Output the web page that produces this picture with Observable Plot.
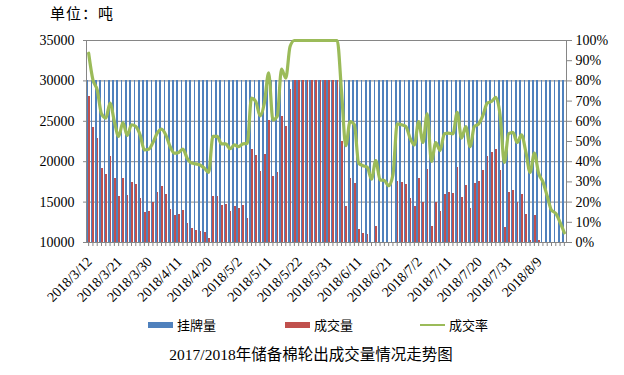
<!DOCTYPE html>
<html><head><meta charset="utf-8">
<script src="https://cdn.jsdelivr.net/npm/d3@7"></script>
<script src="https://cdn.jsdelivr.net/npm/@observablehq/plot@0.6"></script>
<style>
body{margin:0;background:#fff}
#wrap{position:relative;width:624px;height:375px;overflow:hidden;font-family:"Liberation Serif","Noto Sans CJK SC",serif}
#wrap svg{position:absolute;left:0;top:0}
.t{position:absolute;white-space:nowrap;color:#000;line-height:1}
.cjk{font-family:"Noto Sans CJK SC",sans-serif}
.sw{position:absolute}
</style></head><body>
<div id="wrap"></div>
<script>
const dates = [
"2018/3/12","2018/3/13","2018/3/14","2018/3/15","2018/3/16",
"2018/3/19","2018/3/20","2018/3/21","2018/3/22","2018/3/23",
"2018/3/26","2018/3/27","2018/3/28","2018/3/29","2018/3/30",
"2018/4/2","2018/4/3","2018/4/4","2018/4/8",
"2018/4/9","2018/4/10","2018/4/11","2018/4/12","2018/4/13",
"2018/4/16","2018/4/17","2018/4/18","2018/4/19","2018/4/20",
"2018/4/23","2018/4/24","2018/4/25","2018/4/26","2018/4/27","2018/4/28",
"2018/5/2","2018/5/3","2018/5/4",
"2018/5/7","2018/5/8","2018/5/9","2018/5/10","2018/5/11",
"2018/5/14","2018/5/15","2018/5/16","2018/5/17","2018/5/18",
"2018/5/21","2018/5/22","2018/5/23","2018/5/24","2018/5/25",
"2018/5/28","2018/5/29","2018/5/30","2018/5/31",
"2018/6/1",
"2018/6/4","2018/6/5","2018/6/6","2018/6/7","2018/6/8",
"2018/6/11","2018/6/12","2018/6/13","2018/6/14","2018/6/15",
"2018/6/19","2018/6/20","2018/6/21","2018/6/22",
"2018/6/25","2018/6/26","2018/6/27","2018/6/28","2018/6/29",
"2018/7/2","2018/7/3","2018/7/4","2018/7/5","2018/7/6",
"2018/7/9","2018/7/10","2018/7/11","2018/7/12","2018/7/13",
"2018/7/16","2018/7/17","2018/7/18","2018/7/19","2018/7/20",
"2018/7/23","2018/7/24","2018/7/25","2018/7/26","2018/7/27",
"2018/7/30","2018/7/31",
"2018/8/1","2018/8/2","2018/8/3",
"2018/8/6","2018/8/7","2018/8/8","2018/8/9","2018/8/10",
"2018/8/13","2018/8/14","2018/8/15","2018/8/16","2018/8/17"
];
// 挂牌量 (tons)
const listed = [
30000,30000,30000,30000,30000,30000,30000,30000,30000,30000,30000,30000,30000,30000,
30000,30000,30000,30000,30000,30000,30000,30000,30000,30000,30000,30000,30000,30000,
30000,30000,30000,30000,30000,30000,30000,30000,30000,30000,30000,30000,30000,30000,
30000,30000,30000,30000,30000,30000,30000,30000,30000,30000,30000,30000,30000,30000,
30000,30000,30000,30000,30000,30000,30000,30000,30000,30000,30000,30000,30000,30000,
30000,30000,30000,30000,30000,30000,30000,30000,30000,30000,30000,30000,30000,30000,
30000,30000,30000,30000,30000,30000,30000,30000,30000,30000,30000,30000,30000,30000,
30000,30000,30000,30000,30000,30000,30000,30000,30000,30000,30000,30000,30000,30000
];
// 成交量 (tons)
const traded = [
28070,24230,22870,19160,18415,20640,17920,15690,17920,15820,
17425,17180,15445,13710,13840,14950,16190,16930,15940,14080,
13340,13465,13960,12350,11730,11485,11360,11240,10495,15690,
15690,14580,14700,13840,14455,14210,14580,12970,21510,20770,
18790,20890,25100,18200,18700,25590,24355,28930,30000,30000,
30000,30000,30000,30000,30000,30000,30000,30000,30000,22500,
14455,17920,17300,11610,11110,10990,9400,11980,9300,9200,
8430,10050,17550,17425,17180,15445,14455,17920,14950,19030,
11980,14950,13840,15940,16190,16060,19280,15570,17050,14210,
17300,17550,18910,20640,21140,21510,18910,11860,16190,16435,
14950,15940,13465,10250,13340,10250,9000,6900,4800,4300,
3000,1400
];
// 成交率 (%)
const rate = [
93.7,80.5,75.6,63.7,61.6,69.0,59.9,52.5,59.4,53.0,
58.3,57.4,53.3,45.9,46.2,49.5,54.1,56.1,53.3,47.5,
44.2,44.6,46.2,41.7,39.3,38.9,38.4,36.8,34.7,52.5,
52.5,48.8,48.8,46.4,48.3,47.5,48.8,49.0,71.5,69.8,
62.7,69.0,84.0,60.7,62.4,85.8,81.4,97.0,100,100,
100,100,100,100,100,100,100,100,100,75.0,
47.9,59.9,58.3,39.3,38.0,37.3,31.4,40.6,31.0,30.7,
28.1,33.5,58.7,58.3,57.4,51.7,48.3,59.9,49.5,63.7,
40.1,49.5,45.5,53.8,54.1,53.8,64.4,51.7,57.4,47.5,
57.4,58.7,62.9,69.0,69.8,71.8,63.2,39.6,53.8,54.5,
49.5,53.3,45.0,34.7,44.2,34.3,30.0,23.0,16.0,14.4,
10.0,4.8
];
const leftTicks = [10000,15000,20000,25000,30000,35000];
const rightTicks = [0,10,20,30,40,50,60,70,80,90,100];
const labelDates = ["2018/3/12","2018/3/21","2018/3/30","2018/4/11","2018/4/20","2018/5/2","2018/5/11","2018/5/22","2018/5/31","2018/6/11","2018/6/21","2018/7/2","2018/7/11","2018/7/20","2018/7/31","2018/8/9"];
const seriesNames = ["挂牌量","成交量","成交率"];
const colors = ["#4F81BD","#C0504D","#9BBB59"];
const unitLabel = "单位：吨";
const caption = "2017/2018年储备棉轮出成交量情况走势图";

const rows = dates.map((d,i)=>({date:d, listed:listed[i], traded:traded[i], rate:rate[i]}));
const yMin = 10000, yMax = 35000;
const rateToY = r => yMin + r/100*(yMax-yMin);
const yToRate = v => Math.round((v-yMin)/(yMax-yMin)*100);
const bw = (624-86-58)/dates.length;
const grid = "#868686";
const font = '"Liberation Serif","Times New Roman","Noto Sans CJK SC",serif';

const chart = Plot.plot({
  width:624, height:375,
  marginTop:40, marginBottom:133, marginLeft:86, marginRight:58,
  style:{fontFamily:font, fontSize:"14px", color:"#000", background:"transparent"},
  x:{type:"band", domain:dates, padding:0, axis:null},
  y:{domain:[yMin,yMax], axis:null},
  marks:[
    Plot.ruleY(leftTicks,{stroke:grid, strokeWidth:1}),
    Plot.barY(rows,{x:"date", y1:yMin, y2:"listed", fill:colors[0], insetLeft:0.4, insetRight:bw/2, clip:true, shapeRendering:"crispEdges"}),
    Plot.barY(rows,{x:"date", y1:yMin, y2:"traded", fill:colors[1], insetLeft:bw/2, insetRight:0.4, clip:true, shapeRendering:"crispEdges"}),
    Plot.frame({stroke:grid}),
    Plot.axisY(leftTicks,{anchor:"left", label:null, tickSize:3, tickPadding:9, stroke:grid, fill:"#000", fontSize:14, fontFamily:font, tickFormat:d=>String(d)}),
    Plot.axisY(rightTicks.map(rateToY),{anchor:"right", label:null, tickSize:5, tickPadding:4, stroke:grid, fill:"#000", fontSize:14, fontFamily:font, tickFormat:v=>yToRate(v)+"%"}),
    Plot.axisX(dates,{anchor:"bottom", label:null, tickSize:4, stroke:grid, tickFormat:()=>""}),
    Plot.axisX(labelDates,{anchor:"bottom", label:null, tickSize:0, tickPadding:17, tickRotate:-45, fill:"#000", fontSize:14, fontFamily:font, dx:1}),
    Plot.line(rows,{x:"date", y:d=>rateToY(d.rate), stroke:colors[2], strokeWidth:3.2, curve:"monotone-x", strokeLinejoin:"round"})
  ]
});
const wrap = document.getElementById("wrap");
wrap.appendChild(chart);

function addText(txt, left, top, size, cls, extra){
  const el = document.createElement("div");
  el.className = "t " + (cls||"");
  el.textContent = txt;
  el.style.left = left+"px"; el.style.top = top+"px"; el.style.fontSize = size+"px";
  if (extra) Object.assign(el.style, extra);
  wrap.appendChild(el);
  return el;
}
addText(unitLabel, 50, 5, 15, "cjk", {letterSpacing:"1px"});
// legend
const legendX = [148, 285, 420];
seriesNames.forEach((name,i)=>{
  const sw = document.createElement("div");
  sw.className = "sw";
  sw.style.left = legendX[i]+"px";
  sw.style.width = "25px";
  if (i<2){ sw.style.top="322px"; sw.style.height="6px"; }
  else { sw.style.top="324px"; sw.style.height="2px"; }
  sw.style.background = colors[i];
  wrap.appendChild(sw);
  addText(name, legendX[i]+29, 318, 13, "cjk");
});
addText(caption, 0, 347, 15.5, "", {width:"622px", textAlign:"center"});
</script>
</body></html>
